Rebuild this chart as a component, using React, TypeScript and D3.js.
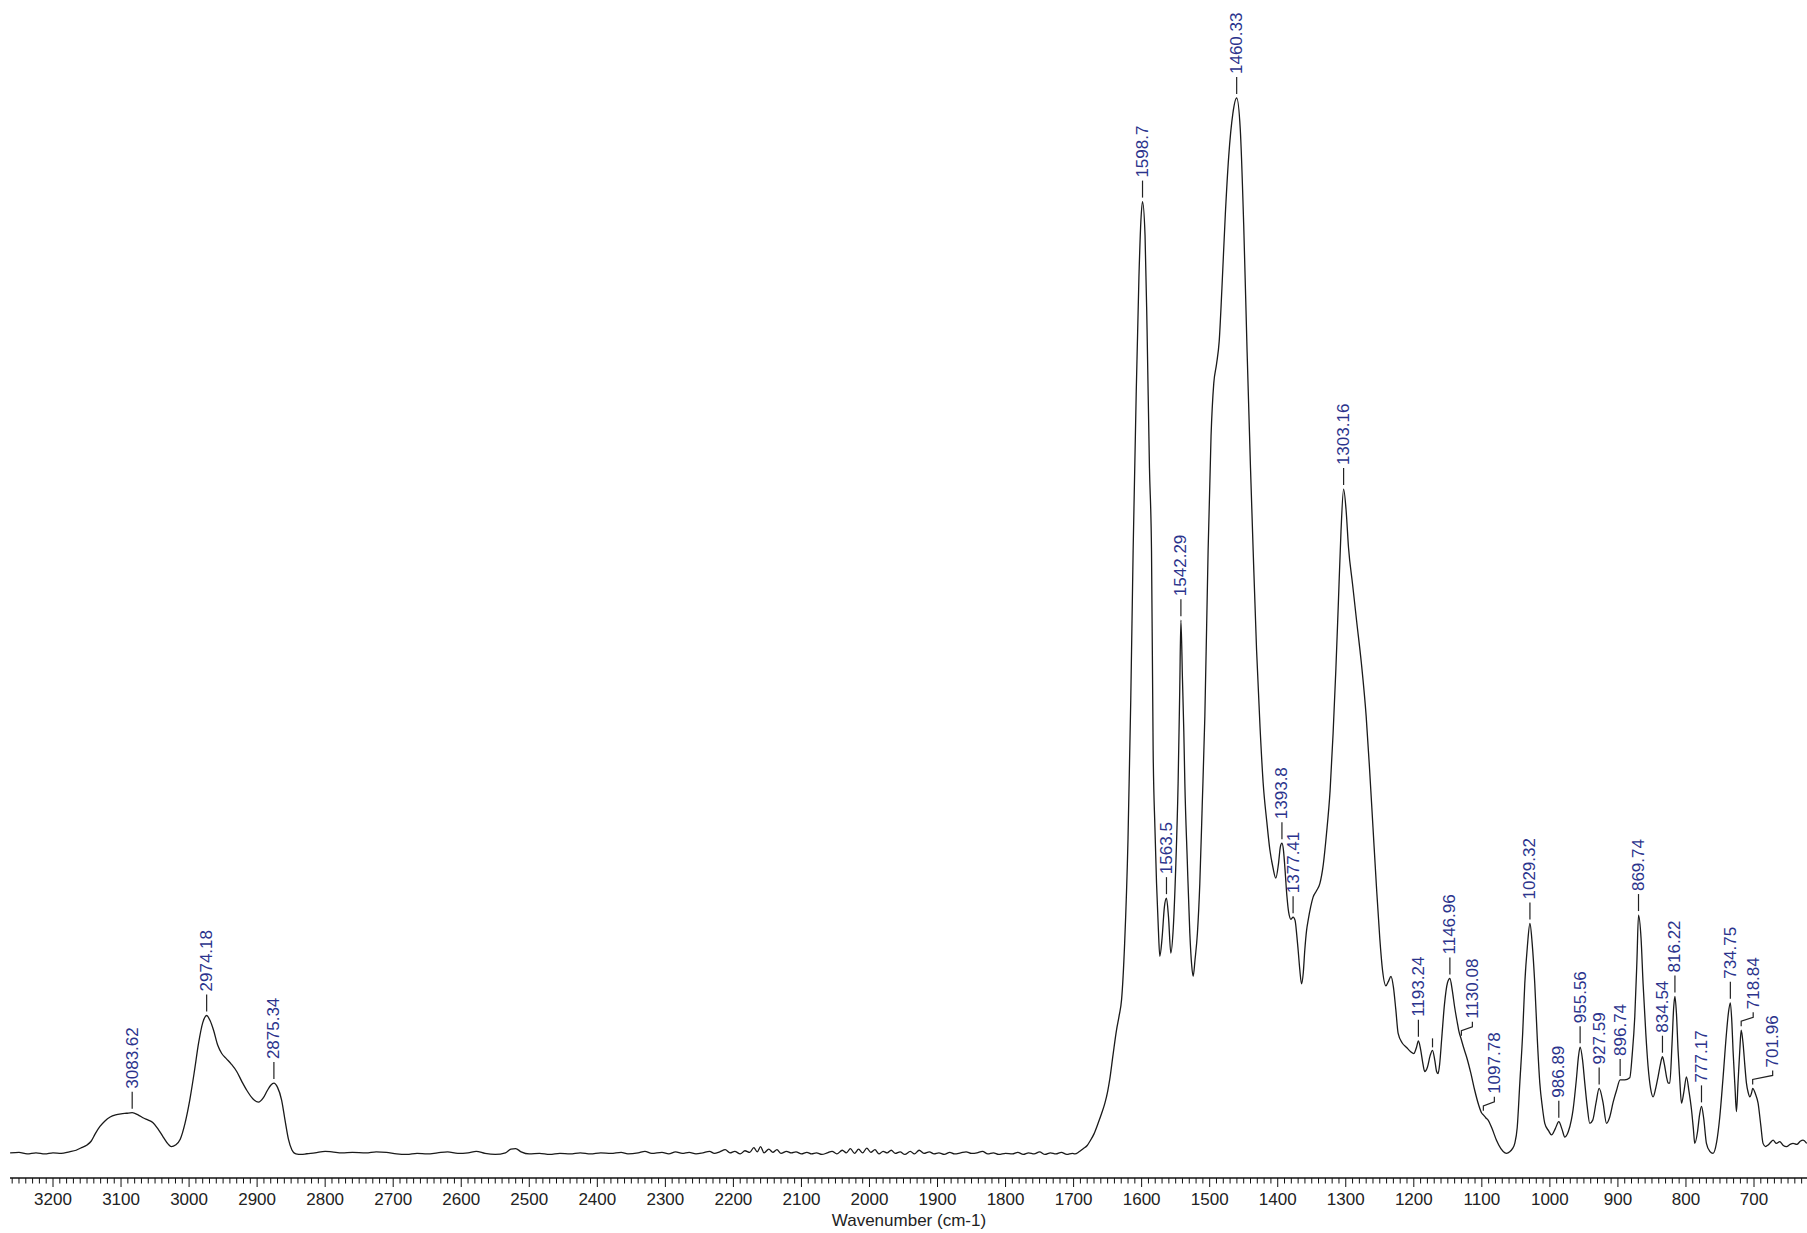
import React from 'react';
import * as d3 from 'd3';

const W = 1807;
const H = 1233;

// C-H stretching region (wavenumber cm-1, relative intensity)
const chStretchRegion: [number, number][] = [
  [3263, 0.2], [3250, 0.25], [3238, 0.1], [3225, 0.2], [3212, 0.1], [3200, 0.2], [3188, 0.15], [3176, 0.3],
  [3166, 0.45], [3158, 0.7], [3150, 0.95], [3144, 1.3], [3138, 2.0], [3131, 2.7], [3124, 3.2], [3116, 3.6],
  [3108, 3.8], [3100, 3.9], [3092, 3.95], [3083.62, 4.0], [3075, 3.8], [3067, 3.5], [3060, 3.3], [3053, 3.05],
  [3046, 2.5], [3038, 1.7], [3031, 1.05], [3026, 0.8], [3020, 0.95], [3013, 1.5], [3006, 3.0], [2999, 5.2],
  [2992, 8.0], [2986, 10.6], [2980, 12.5], [2974.18, 13.2], [2969, 12.7], [2964, 11.8], [2958, 10.4], [2952, 9.6],
  [2945, 9.1], [2938, 8.6], [2930, 7.9], [2922, 6.9], [2915, 6.1], [2906, 5.3], [2898, 5.0], [2891, 5.4],
  [2885, 6.1], [2880, 6.6], [2875.34, 6.8], [2870, 6.4], [2864, 5.2], [2859, 3.3], [2854, 1.5], [2849, 0.5],
  [2843, 0.1], [2835, 0.05], [2827, 0.12],
];

// Flat, slightly noisy baseline between the two absorbing regions
const midBaseline: [number, number][] = [
  [2815, 0.2], [2800, 0.35], [2790, 0.3], [2775, 0.2], [2760, 0.25], [2740, 0.2], [2725, 0.3], [2710, 0.25],
  [2695, 0.1], [2680, 0.05], [2665, 0.15], [2650, 0.1], [2635, 0.2], [2620, 0.3], [2605, 0.15], [2590, 0.2],
  [2578, 0.35], [2565, 0.15], [2550, 0.05], [2535, 0.2], [2527, 0.55], [2520, 0.6], [2512, 0.3], [2500, 0.1],
  [2485, 0.15], [2470, 0.05], [2455, 0.15], [2440, 0.1], [2425, 0.2], [2410, 0.1], [2395, 0.2], [2380, 0.15],
  [2365, 0.25], [2355, 0.1], [2340, 0.2], [2330, 0.35], [2320, 0.15], [2305, 0.25], [2295, 0.1], [2285, 0.3],
  [2275, 0.15], [2265, 0.25], [2255, 0.1], [2245, 0.2], [2235, 0.35], [2228, 0.15], [2220, 0.3], [2212, 0.5],
  [2205, 0.2], [2198, 0.35], [2190, 0.1], [2183, 0.4], [2176, 0.25], [2170, 0.7], [2165, 0.3], [2160, 0.8],
  [2155, 0.2], [2148, 0.55], [2142, 0.25], [2136, 0.5], [2130, 0.15], [2122, 0.35], [2115, 0.2], [2108, 0.3],
  [2100, 0.1], [2092, 0.25], [2085, 0.1], [2078, 0.2], [2070, 0.05], [2062, 0.2], [2055, 0.35], [2048, 0.1],
  [2040, 0.45], [2034, 0.2], [2028, 0.6], [2022, 0.15], [2016, 0.55], [2010, 0.2], [2004, 0.65], [1998, 0.25],
  [1992, 0.5], [1986, 0.1], [1980, 0.35], [1974, 0.2], [1968, 0.45], [1962, 0.15], [1955, 0.3], [1948, 0.05],
  [1940, 0.35], [1934, 0.1], [1927, 0.45], [1920, 0.15], [1912, 0.3], [1905, 0.1], [1898, 0.2], [1890, 0.05],
  [1882, 0.25], [1875, 0.1], [1866, 0.2], [1858, 0.3], [1850, 0.15], [1842, 0.2], [1834, 0.35], [1826, 0.1],
  [1818, 0.2], [1810, 0.05], [1800, 0.15], [1790, 0.1], [1782, 0.25], [1774, 0.05], [1766, 0.2], [1758, 0.1],
  [1750, 0.3], [1742, 0.05], [1734, 0.2], [1726, 0.1], [1718, 0.25], [1710, 0.05], [1702, 0.15],
];

// Fingerprint / double-bond region
const fingerprintRegion: [number, number][] = [
  [1698, 0.1], [1692, 0.3], [1686, 0.6], [1680, 0.9], [1676, 1.3], [1670, 2.0], [1664, 3.0], [1659, 3.9],
  [1654, 4.9], [1650, 6.0], [1647, 7.1], [1642, 9.5], [1637, 11.8], [1633, 13.2], [1629.5, 14.7], [1625, 20],
  [1620, 30], [1616, 43], [1612.5, 57.2], [1608, 72], [1604, 83], [1601, 88.5], [1598.7, 90.2], [1595, 87],
  [1592, 78], [1588.5, 65], [1585.5, 57.2], [1583.1, 38.3], [1580.5, 31], [1578.1, 25.7], [1575.5, 21.5], [1573.3, 18.8],
  [1570, 20.5], [1566.5, 23.5], [1563.5, 24.3], [1560.5, 22.5], [1557.1, 19.1], [1553.5, 21.5], [1550, 27], [1546.4, 35.2],
  [1544, 44], [1542.29, 50.6], [1540, 45], [1538, 40], [1536.5, 35.2], [1533, 28], [1529.2, 21.0], [1526.5, 18],
  [1524.3, 16.9], [1521.5, 18.5], [1518, 21], [1514.5, 25.7], [1511, 33], [1507.1, 41.5], [1502.3, 57.2], [1498, 68],
  [1494, 73], [1490, 74.8], [1486, 77], [1482, 82], [1477, 89], [1472, 94.5], [1466, 98.5], [1460.33, 100],
  [1455, 97], [1450, 88], [1445, 76], [1440, 65], [1436.1, 57.2], [1431.1, 47.8], [1426, 40.5], [1421.4, 35.2],
  [1416, 31.5], [1411.6, 28.9], [1407, 27.2], [1402.8, 26.2], [1399, 27.5], [1396, 29.2], [1393.8, 29.5], [1391.5, 28.8],
  [1389.6, 27.3], [1386.5, 24.5], [1384, 23], [1380.5, 22.3], [1377.41, 22.5], [1374.5, 22.2], [1372, 20.8], [1370, 19.4],
  [1367.5, 17.5], [1365, 16.2], [1362.5, 17.2], [1360.2, 19.4], [1357.5, 21.3], [1355.3, 22.2], [1351.5, 23.5], [1348, 24.4],
  [1343, 25.0], [1338, 25.7], [1333, 27.5], [1328.3, 30.4], [1323, 34.5], [1318.6, 39.9], [1314.5, 46], [1311, 52],
  [1307, 59], [1303.16, 63.0], [1299.5, 61], [1296, 57.5], [1290, 54], [1284, 50.5], [1277, 46.5], [1270, 41.5],
  [1265, 36.5], [1260, 31], [1255, 25.5], [1250, 20.5], [1246, 17.5], [1241, 16.0], [1237.5, 16.4], [1233.5, 16.9],
  [1230, 15.9], [1226.5, 13.8], [1223, 11.5], [1217, 10.6], [1211, 10.2], [1205, 9.8], [1200, 9.6], [1196, 10.2],
  [1193.24, 10.8], [1190, 10.0], [1186.5, 8.6], [1184, 7.9], [1180, 8.3], [1176, 9.4], [1172.5, 9.9], [1169, 8.9],
  [1166.5, 7.9], [1164.3, 7.7], [1162, 8.6], [1159, 11.0], [1155, 14.2], [1150.5, 16.3], [1146.96, 16.7], [1143.5, 15.6],
  [1140, 14.0], [1136, 12.5], [1134, 11.8], [1130.08, 10.9], [1126, 10.0], [1122.5, 9.3], [1116, 7.7], [1110.4, 6.1],
  [1105, 4.8], [1100.5, 4.0], [1097.78, 3.8], [1094, 3.5], [1090.8, 3.3], [1085, 2.5], [1078.5, 1.4], [1072, 0.6],
  [1066, 0.2], [1063.8, 0.16], [1059, 0.3], [1055, 0.6], [1051.6, 1.1], [1048, 2.6], [1044.2, 6.8], [1040, 11.5],
  [1036.9, 16.2], [1033, 19.8], [1029.32, 21.9], [1026, 20], [1022.2, 16.2], [1018.5, 11], [1014.8, 6.8], [1011, 4.5],
  [1007.5, 3.0], [1002, 2.3], [997.6, 1.9], [992, 2.5], [986.89, 3.15], [982, 2.4], [978.1, 1.7], [973, 2.2],
  [968.5, 3.3], [965.9, 4.3], [961, 7.2], [958, 9.3], [955.56, 10.2], [952, 9.0], [948.7, 6.8], [945, 4.5],
  [941.4, 3.0], [937, 3.3], [932, 5.0], [927.59, 6.3], [922, 5.0], [916.8, 3.0], [912, 3.6], [907, 5.0],
  [902.1, 6.1], [896.74, 7.1], [890, 7.1], [882.6, 7.3], [879, 9.5], [875.2, 13.1], [872, 18.5], [869.74, 22.7],
  [866, 20.5], [863.0, 16.2], [859, 11.5], [855.7, 8.4], [852, 6.3], [848.3, 5.5], [844.5, 6.3], [841.0, 7.4],
  [837.5, 8.6], [834.54, 9.3], [831.5, 8.5], [828.6, 7.4], [826, 6.8], [823.8, 6.8], [820.5, 10.5], [818, 14.0],
  [816.22, 15.0], [814, 13.4], [811.6, 9.9], [809, 7.0], [806.6, 4.9], [803, 6.0], [799.3, 7.4], [795.5, 6.0],
  [791.9, 4.3], [789, 2.4], [787.1, 1.1], [783, 2.2], [780, 3.8], [777.17, 4.6], [774, 3.5], [769.9, 1.1],
  [765, 0.35], [760.2, 0.16], [755, 1.2], [750.3, 3.6], [745.5, 7.3], [740.5, 11.5], [737.5, 13.5], [734.75, 14.4],
  [732.5, 12.5], [730.8, 9.9], [728, 6.5], [725.8, 4.1], [723.5, 6.8], [720.9, 9.9], [718.84, 11.8], [716, 10.5],
  [713.5, 8.5], [711.1, 6.8], [708.5, 5.9], [706.2, 5.5], [703.5, 5.9], [701.96, 6.3], [698, 5.8], [694.0, 4.9],
  [690, 2.8], [686.7, 1.1], [683, 0.8], [679.3, 0.95], [675.5, 1.2], [672.0, 1.4], [667, 1.1], [662.2, 1.26],
  [657, 0.9], [652.3, 0.79], [647, 1.0], [642.6, 1.1], [637, 1.0], [632, 1.3], [627.9, 1.4], [622.5, 1.1],
];

// Peak annotations (wavenumber positions and their printed text)
const peakPositions: number[] = [
  3083.62, 2974.18, 2875.34, 1598.7, 1563.5, 1542.29, 1460.33, 1393.8, 1377.41, 1303.16,
  1193.24, 1146.96, 1130.08, 1097.78, 1029.32, 986.89, 955.56, 927.59, 896.74, 869.74,
  834.54, 816.22, 777.17, 734.75, 718.84, 701.96,
];
const peakTexts: string[] = [
  '3083.62', '2974.18', '2875.34', '1598.7', '1563.5', '1542.29', '1460.33', '1393.8', '1377.41', '1303.16',
  '1193.24', '1146.96', '1130.08', '1097.78', '1029.32', '986.89', '955.56', '927.59', '896.74', '869.74',
  '834.54', '816.22', '777.17', '734.75', '718.84', '701.96',
];
// Peak marked with a leader but no number
const unlabeledPeaks: number[] = [1172.5];

const majorTicks: number[] = [3200, 3100, 3000, 2900, 2800, 2700, 2600, 2500, 2400, 2300, 2200, 2100, 2000, 1900, 1800, 1700, 1600, 1500, 1400, 1300, 1200, 1100, 1000, 900, 800, 700];
const axisTitle = 'Wavenumber (cm-1)';

// layout: horizontal shift (px) of bent leaders
const leaderShift: Record<string, number> = { '1130.08': 11, '1097.78': 11, '718.84': 12, '701.96': 20 };

const FONT = "Arial, 'Liberation Sans', Helvetica, sans-serif";
const LABEL_COLOR = '#2b338c';

export default function App() {
  const spectrum = [...chStretchRegion, ...midBaseline, ...fingerprintRegion];
  const x = d3.scaleLinear().domain([3200, 700]).range([53, 1754]);
  const y = d3.scaleLinear().domain([0, 100]).range([1155, 98]);
  const line = d3
    .line<[number, number]>()
    .x((d) => x(d[0]))
    .y((d) => y(d[1]))
    .curve(d3.curveMonotoneX);

  const valueAt = (w: number) => {
    for (let i = 0; i < spectrum.length - 1; i++) {
      const a = spectrum[i], b = spectrum[i + 1];
      if (a[0] >= w && w >= b[0]) {
        const t = (a[0] - w) / (a[0] - b[0]);
        return a[1] + t * (b[1] - a[1]);
      }
    }
    return 0;
  };

  const axisY = 1178;
  const minorTicks = d3.range(3260, 620, -10);

  return (
    <svg
      width={W}
      height={H}
      style={{ position: 'absolute', left: 0, top: 0, background: '#fff' }}
      xmlns="http://www.w3.org/2000/svg"
    >
      <rect x={0} y={0} width={W} height={H} fill="#fff" />
      <path d={line(spectrum) || ''} fill="none" stroke="#1a1a1a" strokeWidth={1.3} strokeLinejoin="round" />

      {peakPositions.map((wn, i) => {
        const text = peakTexts[i];
        const px = x(wn);
        const py = y(valueAt(wn));
        const shift = leaderShift[text] || 0;
        const tx = px + shift;
        if (!shift) {
          return (
            <g key={text}>
              <line x1={px} x2={px} y1={py - 4} y2={py - 21} stroke="#222" strokeWidth={1.2} />
              <text
                transform={`translate(${px},${py - 24}) rotate(-90)`}
                fontFamily={FONT}
                fontSize={17}
                fill={LABEL_COLOR}
                dominantBaseline="central"
              >
                {text}
              </text>
            </g>
          );
        }
        return (
          <g key={text}>
            <polyline
              points={`${px},${py - 4} ${px},${py - 9} ${tx},${py - 13} ${tx},${py - 18}`}
              fill="none"
              stroke="#222"
              strokeWidth={1.2}
            />
            <text
              transform={`translate(${tx},${py - 21}) rotate(-90)`}
              fontFamily={FONT}
              fontSize={17}
              fill={LABEL_COLOR}
              dominantBaseline="central"
            >
              {text}
            </text>
          </g>
        );
      })}

      {unlabeledPeaks.map((wn) => {
        const px = x(wn);
        const py = y(valueAt(wn));
        return <line key={wn} x1={px} x2={px} y1={py - 3} y2={py - 12} stroke="#222" strokeWidth={1.2} />;
      })}

      <line x1={10} x2={W} y1={axisY} y2={axisY} stroke="#111" strokeWidth={1.6} />
      {minorTicks.map((t) => (
        <line
          key={t}
          x1={x(t)}
          x2={x(t)}
          y1={axisY}
          y2={axisY + (t % 100 === 0 ? 9 : 5.5)}
          stroke="#111"
          strokeWidth={1}
        />
      ))}
      {majorTicks.map((t) => (
        <text key={t} x={x(t)} y={1205} textAnchor="middle" fontFamily={FONT} fontSize={17} fill="#222">
          {t}
        </text>
      ))}
      <text x={x(1942)} y={1226} textAnchor="middle" fontFamily={FONT} fontSize={17} fill="#222">
        {axisTitle}
      </text>
    </svg>
  );
}
